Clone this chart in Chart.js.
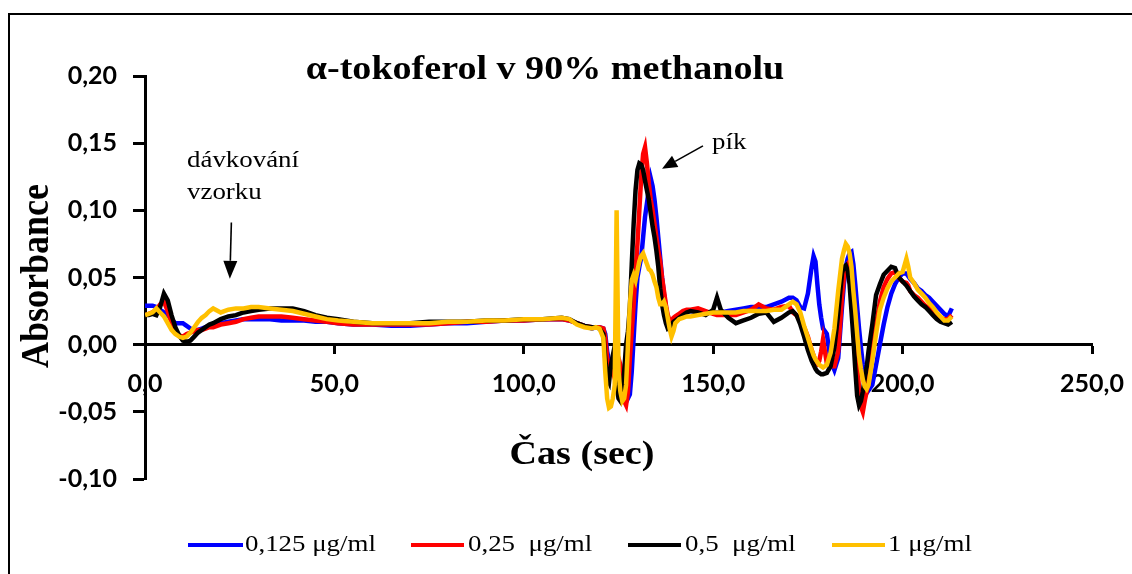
<!DOCTYPE html>
<html><head><meta charset="utf-8">
<script src="https://cdn.jsdelivr.net/npm/chart.js@4.4.1/dist/chart.umd.min.js"></script>
<style>html,body{margin:0;padding:0;background:#fff;}#wrap{width:1132px;height:574px;}</style>
</head><body><div id="wrap"><canvas id="c" width="1132" height="574"></canvas></div>
<script>
// ---- DATA ----
const timeSec = [
  0,1,2,3,4,5,6,7,8,9,10,11,12,13,14,15,16,17,18,20,22,24,26,28,30,33,36,39,42,45,48,
  51,55,60,65,70,75,80,85,90,95,100,105,110,112,114,116,118,
  119,120,121,121.5,122,122.5,123,123.5,124,124.5,125,125.5,126,126.5,127,127.5,128,128.5,129,129.5,130,130.5,131,131.5,132,132.5,133,133.5,134,134.5,135,135.5,136,136.5,137,137.5,138,138.5,139,139.5,140,141,142,143,
  144,146,148,150,151,152,154,156,158,160,162,164,166,168,170,
  171,172,173,174,175,176,176.5,177,177.5,178,178.5,179,180,181,182,183,184,184.5,185,185.5,186,186.5,187,187.5,188,188.5,189,189.5,190,190.5,191,192,193,194,195,196,197,198,199,200,201,201.5,202,203,204,205,206,207,208,209,210,211,212,213
];
const abs0125 = [
  0.029,0.029,0.029,0.028,0.026,0.024,0.022,0.019,0.016,0.016,0.016,0.014,0.012,0.011,0.011,0.012,0.013,0.014,0.015,0.016,0.017,0.018,0.019,0.019,0.019,0.019,0.018,0.018,0.018,0.017,0.017,
  0.016,0.015,0.015,0.014,0.014,0.015,0.016,0.016,0.017,0.018,0.018,0.019,0.019,0.018,0.016,0.014,0.012,
  0.013,0.013,0.012,0.008,-0.005,-0.012,-0.015,-0.018,-0.020,-0.022,-0.025,-0.028,-0.033,-0.036,-0.038,-0.040,-0.037,-0.020,0.005,0.030,0.050,0.058,0.065,0.080,0.095,0.105,0.115,0.124,0.118,0.108,0.095,0.080,0.065,0.050,0.038,0.028,0.020,0.016,0.017,0.019,0.020,0.022,0.024,0.025,
  0.025,0.025,0.024,0.024,0.024,0.024,0.025,0.026,0.027,0.028,0.028,0.028,0.030,0.032,0.035,
  0.035,0.033,0.028,0.027,0.038,0.058,0.066,0.062,0.045,0.030,0.020,0.012,0.008,-0.012,-0.019,-0.010,0.028,0.045,0.058,0.064,0.068,0.069,0.060,0.045,0.028,0.012,-0.002,-0.015,-0.024,-0.030,-0.034,-0.030,-0.015,0.000,0.015,0.028,0.038,0.045,0.050,0.053,0.053,0.051,0.049,0.046,0.042,0.040,0.037,0.035,0.032,0.029,0.026,0.023,0.021,0.027
];
const abs025 = [
  0.022,0.023,0.024,0.026,0.030,0.032,0.025,0.016,0.009,0.007,0.006,0.008,0.009,0.010,0.011,0.011,0.012,0.013,0.013,0.015,0.016,0.017,0.019,0.020,0.021,0.021,0.021,0.020,0.019,0.018,0.017,
  0.016,0.015,0.015,0.015,0.015,0.015,0.016,0.017,0.017,0.018,0.018,0.019,0.019,0.018,0.016,0.014,0.013,
  0.013,0.013,0.012,0.005,-0.010,-0.015,-0.018,-0.020,-0.025,-0.018,-0.010,-0.015,-0.030,-0.042,-0.045,-0.035,-0.010,0.010,0.030,0.055,0.075,0.100,0.125,0.142,0.147,0.135,0.120,0.108,0.100,0.090,0.080,0.070,0.062,0.050,0.040,0.030,0.022,0.018,0.018,0.020,0.021,0.023,0.025,0.026,
  0.026,0.027,0.025,0.023,0.022,0.022,0.022,0.022,0.024,0.026,0.030,0.027,0.026,0.028,0.029,
  0.024,0.022,0.019,0.013,0.006,-0.004,-0.008,-0.012,-0.014,-0.012,-0.005,0.004,-0.014,-0.016,-0.016,-0.005,0.035,0.050,0.058,0.060,0.055,0.040,0.023,0.005,-0.016,-0.032,-0.046,-0.050,-0.042,-0.035,-0.025,-0.005,0.015,0.032,0.043,0.049,0.053,0.054,0.050,0.047,0.046,0.044,0.040,0.037,0.035,0.032,0.029,0.027,0.025,0.022,0.020,0.019,0.019,0.022
];
const abs05 = [
  0.022,0.022,0.023,0.022,0.028,0.038,0.033,0.022,0.013,0.007,0.003,0.002,0.003,0.006,0.009,0.011,0.013,0.015,0.016,0.019,0.021,0.022,0.024,0.025,0.026,0.027,0.027,0.027,0.025,0.022,0.020,
  0.019,0.017,0.016,0.016,0.016,0.017,0.017,0.017,0.018,0.018,0.019,0.019,0.020,0.019,0.016,0.014,0.013,
  0.013,0.012,0.008,-0.010,-0.025,-0.028,-0.015,-0.008,-0.015,-0.030,-0.040,-0.042,-0.035,-0.020,0.000,0.010,0.028,0.060,0.090,0.115,0.130,0.135,0.134,0.130,0.122,0.115,0.108,0.098,0.088,0.080,0.070,0.058,0.042,0.030,0.022,0.016,0.012,0.013,0.015,0.017,0.018,0.020,0.022,0.024,
  0.025,0.024,0.022,0.026,0.035,0.026,0.020,0.016,0.018,0.020,0.023,0.024,0.017,0.020,0.024,
  0.025,0.022,0.015,0.006,-0.004,-0.012,-0.015,-0.018,-0.020,-0.021,-0.022,-0.022,-0.021,-0.016,-0.002,0.023,0.053,0.058,0.059,0.055,0.045,0.025,0.005,-0.018,-0.038,-0.045,-0.042,-0.035,-0.025,-0.017,-0.005,0.015,0.037,0.045,0.052,0.055,0.058,0.057,0.050,0.047,0.044,0.042,0.040,0.036,0.033,0.030,0.028,0.025,0.022,0.019,0.017,0.016,0.015,0.017
];
const abs1 = [
  0.022,0.023,0.024,0.027,0.024,0.021,0.016,0.011,0.008,0.006,0.005,0.006,0.009,0.013,0.017,0.020,0.022,0.025,0.027,0.024,0.026,0.027,0.027,0.028,0.028,0.027,0.026,0.025,0.023,0.021,0.019,
  0.018,0.017,0.016,0.016,0.016,0.016,0.017,0.017,0.018,0.018,0.019,0.019,0.020,0.019,0.015,0.013,0.012,
  0.013,0.012,0.005,-0.020,-0.040,-0.047,-0.046,-0.040,-0.030,0.100,-0.020,-0.035,-0.042,-0.040,-0.030,0.000,0.030,0.048,0.052,0.048,0.055,0.062,0.066,0.068,0.064,0.060,0.056,0.055,0.052,0.047,0.043,0.035,0.030,0.030,0.032,0.028,0.020,0.012,0.006,0.010,0.016,0.019,0.020,0.021,
  0.021,0.022,0.023,0.024,0.024,0.024,0.024,0.024,0.025,0.025,0.025,0.025,0.026,0.026,0.030,
  0.032,0.030,0.024,0.014,0.005,-0.004,-0.008,-0.011,-0.013,-0.015,-0.016,-0.017,-0.015,-0.006,0.012,0.040,0.064,0.070,0.075,0.073,0.068,0.058,0.040,0.025,0.008,-0.008,-0.018,-0.026,-0.031,-0.033,-0.030,-0.012,0.008,0.026,0.035,0.042,0.047,0.050,0.053,0.054,0.064,0.058,0.050,0.046,0.041,0.038,0.035,0.031,0.028,0.024,0.021,0.018,0.018,0.021
];
const seriesLabels = ['0,125 μg/ml', '0,25  μg/ml', '0,5  μg/ml', '1 μg/ml'];
const seriesColors = ['#0000FF', '#FF0000', '#000000', '#FFC000'];
const chartTitle = 'α-tokoferol v 90% methanolu';
const xTitle = 'Čas (sec)';
const yTitle = 'Absorbance';
const noteInjection = ['dávkování', 'vzorku'];
const notePeak = 'pík';

// ---- DRAWING ----
const SX = 1.12; // horizontal stretch of the original picture's text
function drawText(ctx, s, x, y, font, align, rot) {
  ctx.save();
  ctx.translate(x, y);
  ctx.scale(SX, 1);
  if (rot) ctx.rotate(rot);
  ctx.font = font; ctx.textAlign = align; ctx.textBaseline = 'middle'; ctx.fillStyle = '#000';
  ctx.fillText(s, 0, 0);
  ctx.restore();
}
function drawArrow(ctx, x1, y1, x2, y2, hl, hw) {
  const a = Math.atan2(y2 - y1, x2 - x1);
  const bx = x2 - hl * Math.cos(a), by = y2 - hl * Math.sin(a);
  ctx.save();
  ctx.strokeStyle = '#000'; ctx.fillStyle = '#000'; ctx.lineWidth = 1.6;
  ctx.beginPath(); ctx.moveTo(x1, y1); ctx.lineTo(bx, by); ctx.stroke();
  ctx.beginPath();
  ctx.moveTo(x2, y2);
  ctx.lineTo(bx + hw / 2 * Math.sin(a), by - hw / 2 * Math.cos(a));
  ctx.lineTo(bx - hw / 2 * Math.sin(a), by + hw / 2 * Math.cos(a));
  ctx.closePath(); ctx.fill();
  ctx.restore();
}

const decor = {
  id: 'decor',
  afterDraw(chart) {
    const ctx = chart.ctx, xs = chart.scales.x, ys = chart.scales.y;
    const X = v => xs.getPixelForValue(v), Y = v => ys.getPixelForValue(v);
    ctx.save();
    // outer frame (top + left visible)
    ctx.strokeStyle = '#000'; ctx.lineWidth = 2;
    ctx.beginPath(); ctx.moveTo(9, 574); ctx.lineTo(9, 14); ctx.lineTo(1132, 14); ctx.stroke();
    // titles
    drawText(ctx, chartTitle, 545, 70, 'bold 34px "Liberation Serif"', 'center');
    drawText(ctx, xTitle, 582, 455, 'bold 34px "Liberation Serif"', 'center');
    drawText(ctx, yTitle, 38, 276, 'bold 36px "Liberation Serif"', 'center', -Math.PI / 2);
    // annotations
    drawText(ctx, noteInjection[0], X(11.1), Y(0.137), '24px "Liberation Serif"', 'left');
    drawText(ctx, noteInjection[1], X(11.1), Y(0.113), '24px "Liberation Serif"', 'left');
    drawArrow(ctx, X(22.8), Y(0.091), X(22.4), Y(0.049), 18, 14);
    drawText(ctx, notePeak, X(149.7), Y(0.150), '24px "Liberation Serif"', 'left');
    drawArrow(ctx, X(147.3), Y(0.148), X(136.5), Y(0.131), 15, 13);
    // legend
    const items = [[188, 243, 245], [411, 464, 468], [628, 681, 685], [832, 885, 888]];
    items.forEach((it, i) => {
      ctx.strokeStyle = seriesColors[i]; ctx.lineWidth = 4; ctx.lineCap = 'butt';
      ctx.beginPath(); ctx.moveTo(it[0], 545); ctx.lineTo(it[1], 545); ctx.stroke();
      drawText(ctx, seriesLabels[i], it[2], 545, '24px "Liberation Serif"', 'left');
    });
    ctx.restore();
  }
};

const seriesValues = [abs0125, abs025, abs05, abs1];
const drawOrder = [4, 3, 2, 1];
const datasets = seriesValues.map((vals, i) => ({
  label: seriesLabels[i],
  data: timeSec.map((t, k) => ({ x: t, y: vals[k] })),
  borderColor: seriesColors[i],
  backgroundColor: seriesColors[i],
  borderWidth: 4.5,
  pointRadius: 0,
  tension: 0,
  order: drawOrder[i]
}));

const tickFont = { family: 'Lato', weight: 'bold', size: 25 };
new Chart(document.getElementById('c'), {
  type: 'line',
  data: { datasets },
  options: {
    responsive: false,
    animation: false,
    devicePixelRatio: 1,
    layout: { padding: { left: 0, right: 40, top: 76, bottom: 95 } },
    plugins: { legend: { display: false }, title: { display: false }, tooltip: { enabled: false } },
    scales: {
      x: {
        type: 'linear', position: { y: 0 }, min: 0, max: 250,
        ticks: { stepSize: 50, color: '#000', font: tickFont, padding: 16, maxRotation: 0,
          callback: v => Number(v).toFixed(1).replace('.', ',') },
        grid: { drawOnChartArea: false, drawTicks: true, tickLength: 8, tickWidth: 3, tickColor: '#000' },
        border: { display: true, color: '#000', width: 3 },
        afterFit: s => { s.paddingLeft = 0; s.paddingRight = 0; }
      },
      y: {
        type: 'linear', position: 'left', min: -0.1, max: 0.2,
        ticks: { stepSize: 0.05, color: '#000', font: tickFont, padding: 16,
          callback: v => (Math.round(v * 100) / 100).toFixed(2).replace('.', ',') },
        grid: { drawOnChartArea: false, drawTicks: true, tickLength: 12, tickWidth: 3, tickColor: '#000' },
        border: { display: true, color: '#000', width: 3 },
        afterFit: s => { s.width = 145; }
      }
    }
  },
  plugins: [decor]
});
</script>
</body></html>
